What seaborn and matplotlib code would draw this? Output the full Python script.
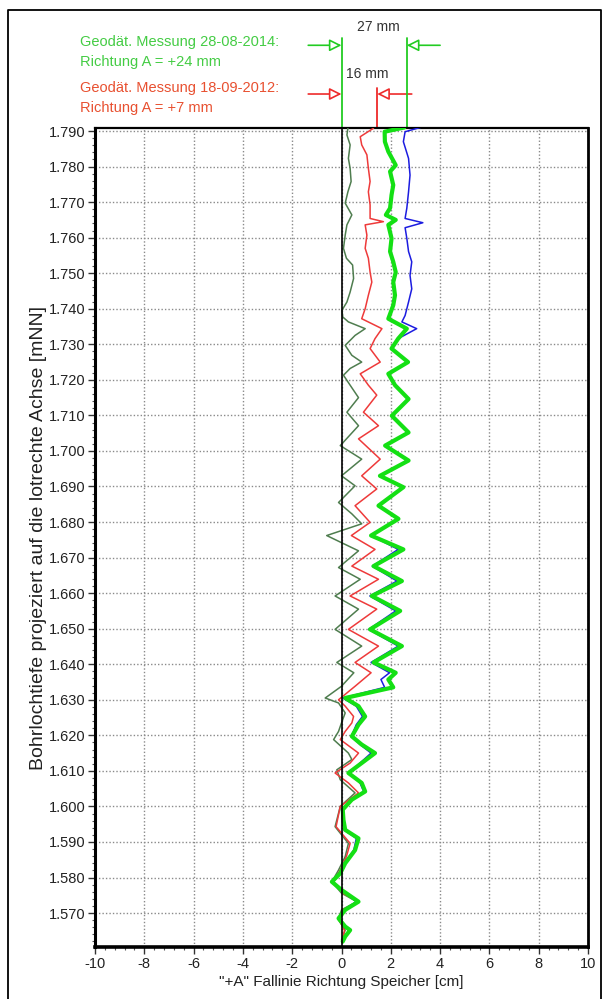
import matplotlib
matplotlib.use("Agg")
import matplotlib.pyplot as plt
import matplotlib.ticker as mticker
from matplotlib.patches import FancyArrowPatch
import pandas as pd
import seaborn as sns

# depth [mNN] and offset [cm]
dg_depth = [1791.7, 1788.9, 1786.1, 1782.3, 1779.5, 1775.8, 1772.9, 1769.7, 1766.4, 1763.6,
            1760.7, 1757.0, 1754.2, 1752.3, 1748.5, 1744.7, 1741.9, 1739.6, 1737.7, 1736.3,
            1734.4, 1732.5, 1729.7, 1726.9, 1725.0, 1723.2, 1721.3, 1718.5, 1715.0, 1710.9,
            1707.1, 1701.5, 1697.7, 1693.0, 1690.2, 1685.5, 1682.3, 1679.5, 1676.2, 1671.9,
            1667.2, 1663.9, 1659.2, 1655.5, 1649.8, 1645.1, 1640.5, 1637.6, 1633.8, 1630.5,
            1629.1, 1626.3, 1623.5, 1621.1, 1618.8, 1615.0, 1613.2, 1610.3, 1607.5, 1603.8,
            1600.0, 1594.3, 1589.6, 1585.9, 1582.1, 1578.8, 1575.6, 1573.2, 1570.9, 1568.1,
            1565.2, 1562.4]
dg_val = [0.28, 0.22, 0.35, 0.28, 0.35, 0.39, 0.26, 0.15, 0.42, 0.22,
          0.15, 0.08, 0.2, 0.45, 0.49, 0.35, 0.22, 0.02, 0.05, 0.28,
          0.96, 0.55, 0.15, 0.42, 0.82, 0.35, 0.08, 0.35, 0.69, 0.22,
          0.69, -0.05, 0.82, 0.0, 0.55, -0.12, 0.42, 0.82, -0.6, 0.69,
          -0.12, 0.76, -0.26, 0.69, -0.26, 0.82, -0.19, 0.5, 0.0, -0.66,
          -0.12, 0.15, 0.0, -0.12, -0.32, 0.28, 0.42, -0.19, -0.05, 0.55,
          -0.05, -0.26, 0.28, 0.15, -0.12, -0.39, 0.0, 0.62, 0.0, -0.12,
          0.15, 0.0]

red_depth = [1790.8, 1788.4, 1786.1, 1783.3, 1779.5, 1775.8, 1772.9, 1769.2, 1765.4, 1764.5,
             1763.6, 1760.7, 1757.0, 1754.2, 1750.3, 1747.5, 1743.8, 1740.0, 1737.2, 1734.4,
             1731.6, 1728.8, 1725.0, 1721.7, 1718.5, 1715.7, 1710.9, 1707.1, 1703.4, 1697.7,
             1693.0, 1689.3, 1684.6, 1679.9, 1676.2, 1672.3, 1667.6, 1663.9, 1659.2, 1655.5,
             1649.8, 1645.1, 1640.5, 1637.6, 1633.8, 1630.0, 1628.2, 1625.3, 1623.5, 1621.1,
             1618.8, 1615.0, 1612.2, 1609.4, 1606.6, 1603.8, 1600.0, 1594.3, 1589.6, 1585.9,
             1582.1, 1578.8, 1575.6, 1573.2, 1570.9, 1568.1, 1565.2, 1562.4]
red_val = [1.3, 0.76, 0.82, 1.03, 1.09, 1.16, 1.09, 1.16, 1.16, 1.7,
           0.96, 1.03, 0.96, 1.09, 1.16, 1.23, 1.09, 0.96, 0.82, 1.64,
           1.36, 1.16, 1.57, 0.76, 1.09, 1.43, 0.89, 1.5, 0.69, 1.57,
           0.82, 1.43, 0.55, 1.16, 0.4, 1.36, 0.42, 1.5, 0.35, 1.43,
           0.28, 1.5, 0.55, 1.2, 0.55, -0.12, 0.15, 0.49, 0.42, 0.15,
           -0.05, 0.69, 0.35, -0.26, 0.28, 0.69, -0.05, -0.22, 0.35, 0.2,
           -0.05, -0.32, 0.05, 0.69, 0.05, -0.1, 0.12, 0.05]

blue_depth = [1791.2, 1789.8, 1787.0, 1782.3, 1777.6, 1772.9, 1768.3, 1765.4, 1764.2, 1762.8,
              1759.8, 1756.1, 1753.2, 1749.4, 1745.6, 1741.9, 1738.1, 1736.3, 1734.4, 1731.6,
              1728.8, 1725.0, 1721.7, 1718.5, 1714.6, 1709.9, 1705.2, 1701.5, 1697.3, 1693.0,
              1689.8, 1684.6, 1680.9, 1676.2, 1672.3, 1667.6, 1663.4, 1659.2, 1655.0, 1649.8,
              1645.1, 1640.5, 1637.6, 1635.7, 1633.5, 1630.5, 1628.2, 1625.3, 1623.0, 1619.7,
              1617.4, 1615.0, 1612.2, 1609.4, 1606.6, 1604.2, 1601.9, 1599.1, 1596.2, 1593.4,
              1591.0, 1587.7, 1584.0, 1581.2, 1578.8, 1576.5, 1573.2, 1570.9, 1568.5, 1566.2,
              1565.2, 1563.4, 1562.0]
blue_val = [3.3, 2.58, 2.51, 2.72, 2.78, 2.72, 2.65, 2.58, 3.3, 2.58,
            2.65, 2.72, 2.85, 2.78, 2.85, 2.72, 2.58, 2.45, 3.05, 2.3,
            2.03, 2.7, 1.9, 2.17, 2.72, 2.04, 2.72, 1.77, 2.72, 1.56,
            2.51, 1.5, 2.31, 1.2, 2.3, 1.25, 2.25, 1.15, 2.2, 1.1,
            2.3, 1.2, 1.95, 1.6, 1.75, 0.05, 0.6, 0.85, 0.6, 0.4,
            0.75, 1.2, 0.75, 0.3, 0.75, 0.9, 0.4, 0.0, 0.05, 0.1,
            0.6, 0.5, 0.1, -0.05, -0.35, 0.0, 0.6, 0.1, -0.1, 0.1,
            0.3, 0.15, 0.05]

green_depth = [1791.0, 1789.8, 1787.0, 1784.2, 1780.4, 1778.6, 1774.8, 1772.0, 1768.3, 1766.4,
               1765.0, 1763.6, 1759.8, 1756.1, 1753.2, 1750.3, 1747.5, 1743.8, 1741.0, 1737.2,
               1734.4, 1731.6, 1728.8, 1725.0, 1721.7, 1718.5, 1714.6, 1709.9, 1705.2, 1701.5,
               1697.3, 1693.0, 1689.8, 1684.6, 1680.9, 1676.2, 1672.3, 1667.6, 1663.4, 1659.2,
               1655.0, 1649.8, 1645.1, 1640.5, 1637.6, 1635.7, 1633.5, 1630.5, 1628.2, 1625.3,
               1623.0, 1619.7, 1617.4, 1615.0, 1612.2, 1609.4, 1606.6, 1604.2, 1601.9, 1599.1,
               1596.2, 1593.4, 1591.0, 1587.7, 1584.0, 1581.2, 1578.8, 1576.5, 1573.2, 1570.9,
               1568.5, 1566.2, 1565.2, 1563.4, 1562.0]
green_val = [2.55, 1.75, 1.76, 1.9, 2.2, 1.97, 2.1, 2.03, 1.97, 1.8,
             2.2, 1.9, 2.03, 1.97, 2.1, 2.2, 2.1, 2.17, 2.1, 1.9,
             2.65, 2.3, 2.03, 2.7, 1.9, 2.17, 2.72, 2.04, 2.72, 1.77,
             2.72, 1.56, 2.51, 1.5, 2.31, 1.2, 2.51, 1.3, 2.45, 1.23,
             2.38, 1.16, 2.45, 1.3, 2.2, 1.9, 2.1, 0.15, 0.69, 0.96,
             0.69, 0.42, 0.82, 1.36, 0.82, 0.28, 0.82, 0.96, 0.42, 0.05,
             0.08, 0.15, 0.69, 0.55, 0.15, -0.05, -0.39, 0.0, 0.69, 0.15,
             -0.12, 0.15, 0.35, 0.15, 0.05]

green_txt = ["Geodät. Messung 28-08-2014:", "Richtung A = +24 mm"]
red_txt = ["Geodät. Messung 18-09-2012:", "Richtung A = +7 mm"]

sns.set_theme(style="white")
plt.rcParams["font.family"] = ["Liberation Sans", "DejaVu Sans"]

W, H = 609, 999
fig = plt.figure(figsize=(W / 100, H / 100), dpi=100)
ax = fig.add_axes([95 / W, 52 / H, 493 / W, 819 / H])

series = [
    (dg_depth, dg_val, "#4f7d4f", 1.1),
    (red_depth, red_val, "#ee3a3a", 1.1),
    (blue_depth, blue_val, "#1c1ce0", 1.1),
    (green_depth, green_val, "#14e014", 3.0),
]
for depth, val, col, lw in series:
    df = pd.DataFrame({"x": val, "y": depth})
    sns.lineplot(data=df, x="x", y="y", orient="y", sort=False, estimator=None,
                 color=col, lw=lw, ax=ax, zorder=3)

ax.axvline(0, color="black", lw=1.2, zorder=4)

ax.set_xlim(-10, 10)
ax.set_ylim(1560.45, 1790.85)
ax.xaxis.set_major_locator(mticker.MultipleLocator(2))
ax.xaxis.set_minor_locator(mticker.MultipleLocator(0.4))
ax.yaxis.set_major_locator(mticker.MultipleLocator(10))
ax.yaxis.set_minor_locator(mticker.MultipleLocator(2))
ax.yaxis.set_major_formatter(mticker.FuncFormatter(lambda v, p: f"{v / 1000:.3f}"))
ax.xaxis.set_major_formatter(mticker.FuncFormatter(lambda v, p: f"{v:g}"))
ax.tick_params(which="major", direction="out", length=5, width=1, color="#333333",
               labelsize=10.5, labelcolor="#222222", pad=2, bottom=True, left=True)
ax.tick_params(which="minor", direction="out", length=2.5, width=0.8, color="#555555",
               bottom=True, left=True)
ax.grid(True, which="major", linestyle=(0, (1, 1.5)), color="#8a8a8a", lw=1)
ax.set_axisbelow(True)
for side, lw in [("left", 2.2), ("bottom", 2.6), ("top", 1.6), ("right", 2.0)]:
    ax.spines[side].set_color("black")
    ax.spines[side].set_linewidth(lw)

ax.set_xlabel('"+A" Fallinie Richtung Speicher [cm]', fontsize=11, color="#222222", labelpad=3)
ax.set_ylabel("Bohrlochtiefe projeziert auf die lotrechte Achse [mNN]", fontsize=14,
              color="#222222", labelpad=1)

# annotation above the plot (axes-fraction y)
tr = ax.get_xaxis_transform()
g_col, r_col = "#22cc22", "#ee2a2a"
for xv in [0, 2.65]:
    ax.plot([xv, xv], [1.0, 1.11], color=g_col, lw=1.3, transform=tr, clip_on=False)
ax.plot([1.45, 1.45], [1.0, 1.049], color=r_col, lw=1.3, transform=tr, clip_on=False)


def arrow(x0, x1, yf, col):
    a = FancyArrowPatch((x0, yf), (x1, yf), transform=tr, arrowstyle="-|>",
                        mutation_scale=18, shrinkA=0, shrinkB=0, lw=1.2,
                        ec=col, fc="white", clip_on=False)
    ax.add_patch(a)


arrow(-1.35, 0, 1.101, g_col)
arrow(4.0, 2.65, 1.101, g_col)
arrow(-1.35, 0, 1.0415, r_col)
arrow(2.85, 1.45, 1.0415, r_col)

fig.text(80 / W, 1 - 42 / H, green_txt[0], color="#44cc44", fontsize=10.5, va="center")
fig.text(80 / W, 1 - 62 / H, green_txt[1], color="#44cc44", fontsize=10.5, va="center")
fig.text(80 / W, 1 - 88 / H, red_txt[0], color="#e85030", fontsize=10.5, va="center")
fig.text(80 / W, 1 - 108 / H, red_txt[1], color="#e85030", fontsize=10.5, va="center")
fig.text(378 / W, 1 - 27 / H, "27 mm", color="#333333", fontsize=10, ha="center", va="center")
fig.text(367 / W, 1 - 74 / H, "16 mm", color="#333333", fontsize=10, ha="center", va="center")

# outer frame
fig.add_artist(plt.Line2D([8 / W, 8 / W, 601 / W, 601 / W], [0, 1 - 10 / H, 1 - 10 / H, 0],
                          color="black", lw=1.3))

fig.savefig("out.png", dpi=100)
